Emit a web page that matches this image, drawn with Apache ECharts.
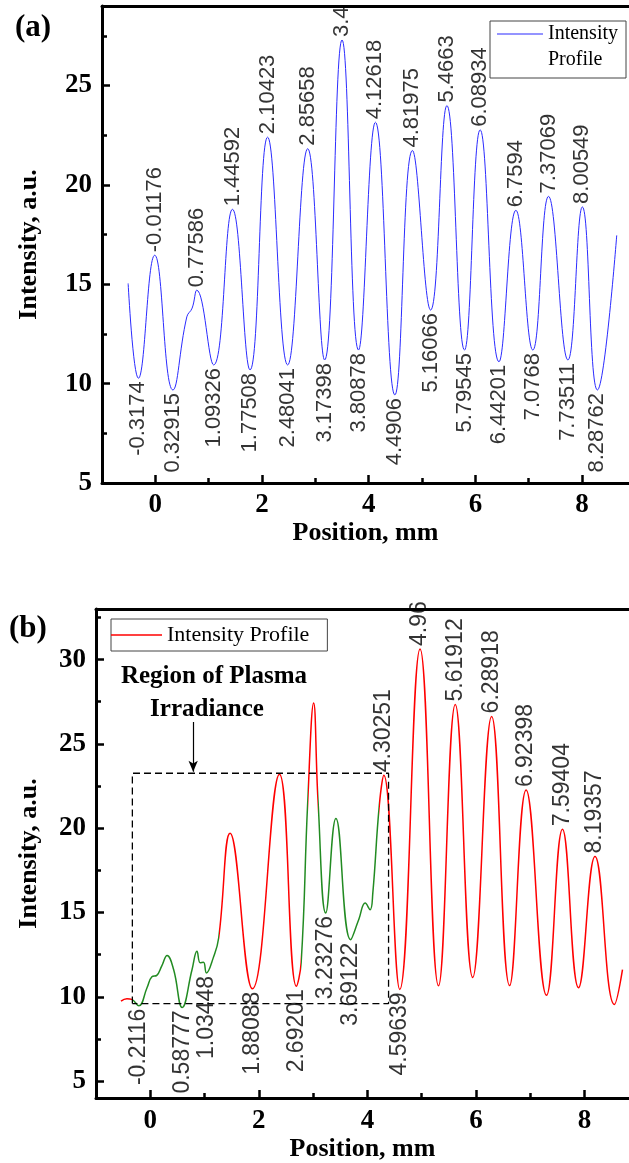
<!DOCTYPE html>
<html><head><meta charset="utf-8">
<script src="https://cdn.jsdelivr.net/npm/echarts@6/dist/echarts.min.js"></script>
<style>html,body{margin:0;padding:0;background:#fff}#c{width:629px;height:1163px}</style>
</head><body><div id="c"></div>
<script>
// ---------- data: panel (a) ----------
const topX = [-0.51, -0.3174, -0.01176, 0.32915, 0.59, 0.69, 0.77586, 1.09326, 1.44592, 1.77508, 2.10423, 2.48041, 2.85658, 3.17398, 3.50, 3.80878, 4.12618, 4.4906, 4.81975, 5.16066, 5.4663, 5.79545, 6.08934, 6.44201, 6.7594, 7.0768, 7.37069, 7.73511, 8.00549, 8.28762, 8.65];
const topY = [15.04, 10.27, 16.46, 9.68, 13.36, 13.80, 14.70, 10.94, 18.77, 10.69, 22.40, 10.94, 21.82, 11.19, 27.29, 11.69, 23.15, 9.43, 21.73, 13.70, 23.99, 11.69, 22.77, 11.10, 18.72, 11.69, 19.42, 11.19, 18.89, 9.68, 17.46];
const topPeakLabels = ['-0.01176', '0.77586', '1.44592', '2.10423', '2.85658', '3.4', '4.12618', '4.81975', '5.4663', '6.08934', '6.7594', '7.37069', '8.00549'];
const topValleyLabels = ['-0.3174', '0.32915', '1.09326', '1.77508', '2.48041', '3.17398', '3.80878', '4.4906', '5.16066', '5.79545', '6.44201', '7.0768', '7.73511', '8.28762'];

// ---------- data: panel (b) ----------
const botX = [-0.54, -0.43, -0.34, -0.2116, -0.06, 0.03, 0.12, 0.21, 0.31, 0.43, 0.58777, 0.77, 0.86, 0.92, 0.98, 1.03448, 1.16, 1.26, 1.47, 1.88088, 2.38, 2.69201, 2.78, 2.90, 3.01, 3.09, 3.23276, 3.42, 3.69122, 3.84, 3.96, 4.05, 4.10, 4.22, 4.30251, 4.59639, 4.97, 5.31, 5.61912, 5.94, 6.28918, 6.62, 6.92398, 7.30, 7.59404, 7.89, 8.19357, 8.55, 8.70];
const botY = [9.75, 9.89, 9.85, 9.47, 10.54, 11.19, 11.27, 11.82, 12.45, 11.62, 9.37, 11.62, 12.70, 12.02, 12.05, 11.42, 12.31, 13.49, 19.70, 10.48, 23.20, 10.63, 12.04, 21.49, 27.42, 21.67, 14.97, 20.58, 13.39, 14.57, 15.56, 15.17, 16.15, 21.37, 23.14, 10.44, 30.63, 10.65, 27.34, 11.15, 26.63, 10.67, 22.26, 10.09, 19.94, 10.54, 18.32, 9.55, 11.62];
const botPeakLabels = ['4.30251', '4.96', '5.61912', '6.28918', '6.92398', '7.59404', '8.19357'];
const botValleyLabels = ['-0.2116', '0.58777', '1.03448', '1.88088', '2.69201', '3.23276', '3.69122', '4.59639'];
// x-ranges drawn in green (plasma region), the rest red
const greenRanges = [[-0.34, 1.27], [2.78, 2.90], [3.09, 4.22]];
// dashed box of the plasma region [xLeft, xRight, yBottom, yTop]
const regionBox = [-0.33, 4.39, 9.6, 23.26];
const arrowLine = [0.79, 26.3, 23.35];

// ---------- ticks ----------
const xMajor = [0, 2, 4, 6, 8];
const xMinor = [1, 3, 5, 7];
const topYMajor = [5, 10, 15, 20, 25];
const topYMinor = [7.5, 12.5, 17.5, 22.5, 27.5];
const botYMajor = [5, 10, 15, 20, 25, 30];
const botYMinor = [7.5, 12.5, 17.5, 22.5, 27.5, 32.5];

const SERIF = 'Liberation Serif', SANS = 'Liberation Sans';
const RED = '#ff0000', GREEN = '#228b22', BLUE = '#2b2bff';

function nearestIdx(xs, v) {
  let b = 0;
  for (let i = 1; i < xs.length; i++) if (Math.abs(xs[i] - v) < Math.abs(xs[b] - v)) b = i;
  return b;
}
function labelData(xs, ys, labels, up, fs) {
  return labels.map(t => {
    const i = nearestIdx(xs, parseFloat(t));
    return {
      value: [xs[i], ys[i]],
      label: {
        show: true, formatter: t, rotate: 90,
        position: up ? 'top' : 'bottom', distance: 3,
        align: up ? 'left' : 'right', verticalAlign: 'middle',
        fontFamily: SANS, fontSize: fs, color: '#000'
      }
    };
  });
}

function xMain(grid, max, nameGap, margin) {
  return {
    type: 'value', gridIndex: grid, position: 'bottom', min: -1, max: max,
    name: 'Position, mm', nameLocation: 'middle', nameGap: nameGap,
    nameTextStyle: {fontFamily: SERIF, fontWeight: 'bold', fontSize: 26, color: '#000'},
    axisLine: {show: true, onZero: false, lineStyle: {color: '#000', width: 3}},
    axisTick: {show: true, inside: true, length: 8, customValues: xMajor, lineStyle: {color: '#000', width: 2.5}},
    axisLabel: {show: true, customValues: xMajor, margin: margin, fontFamily: SERIF, fontWeight: 'bold', fontSize: 27, color: '#000'},
    splitLine: {show: false}
  };
}
function xMinorAxis(grid, max) {
  return {
    type: 'value', gridIndex: grid, position: 'bottom', min: -1, max: max,
    axisLine: {show: false, onZero: false},
    axisTick: {show: true, inside: true, length: 5, customValues: xMinor, lineStyle: {color: '#000', width: 2.5}},
    axisLabel: {show: false}, splitLine: {show: false}
  };
}
function xTop(grid, max) {
  return {
    type: 'value', gridIndex: grid, position: 'top', min: -1, max: max,
    axisLine: {show: true, onZero: false, lineStyle: {color: '#000', width: 3}},
    axisTick: {show: false}, axisLabel: {show: false}, splitLine: {show: false}
  };
}
function yMain(grid, min, max, major, nameGap) {
  return {
    type: 'value', gridIndex: grid, position: 'left', min: min, max: max,
    name: 'Intensity, a.u.', nameLocation: 'middle', nameGap: nameGap, nameRotate: 90,
    nameTextStyle: {fontFamily: SERIF, fontWeight: 'bold', fontSize: 26, color: '#000'},
    axisLine: {show: true, onZero: false, lineStyle: {color: '#000', width: 3}},
    axisTick: {show: true, inside: true, length: 8, customValues: major, lineStyle: {color: '#000', width: 2.5}},
    axisLabel: {show: true, customValues: major, margin: 10, fontFamily: SERIF, fontWeight: 'bold', fontSize: 27, color: '#000'},
    splitLine: {show: false}
  };
}
function yMinorAxis(grid, min, max, minor) {
  return {
    type: 'value', gridIndex: grid, position: 'left', min: min, max: max,
    axisLine: {show: false, onZero: false},
    axisTick: {show: true, inside: true, length: 5, customValues: minor, lineStyle: {color: '#000', width: 2.5}},
    axisLabel: {show: false}, splitLine: {show: false}
  };
}

const pieces = [];
let prev = -100;
greenRanges.forEach(r => {
  pieces.push({gte: prev, lt: r[0], color: RED});
  pieces.push({gte: r[0], lt: r[1], color: GREEN});
  prev = r[1];
});
pieces.push({gte: prev, lte: 100, color: RED});

const boxPts = [[regionBox[0], regionBox[2]], [regionBox[0], regionBox[3]], [regionBox[1], regionBox[3]], [regionBox[1], regionBox[2]], [regionBox[0], regionBox[2]]];

const chart = echarts.init(document.getElementById('c'), null, {renderer: 'canvas'});
chart.setOption({
  animation: false,
  backgroundColor: '#fff',
  title: [
    {text: '(a)', left: 15, top: 12, padding: 0, textStyle: {fontFamily: SERIF, fontWeight: 'bold', fontSize: 31, color: '#000'}},
    {text: '(b)', left: 9, top: 613, padding: 0, textStyle: {fontFamily: SERIF, fontWeight: 'bold', fontSize: 31, color: '#000'}}
  ],
  grid: [
    {left: 102, top: 6, right: 0, bottom: 680, containLabel: false},
    {left: 96, top: 609, right: 0, bottom: 65, containLabel: false}
  ],
  xAxis: [xMain(0, 8.88, 31, 9), xMinorAxis(0, 8.88), xTop(0, 8.88), xMain(1, 8.82, 34, 10), xMinorAxis(1, 8.82), xTop(1, 8.82)],
  yAxis: [yMain(0, 5, 29, topYMajor, 60), yMinorAxis(0, 5, 29, topYMinor), yMain(1, 4, 33, botYMajor, 54), yMinorAxis(1, 4, 33, botYMinor)],
  legend: [
    {
      data: ['Intensity Profile (a)'], left: 497, top: -5, padding: 0, selectedMode: false,
      itemWidth: 46, itemHeight: 14, icon: 'path://M0,0H46V1H0Z',
      formatter: () => '\nIntensity\nProfile',
      textStyle: {fontFamily: SERIF, fontSize: 20, lineHeight: 26, color: '#000'}
    },
    {
      data: ['Intensity Profile (b)'], left: 111, top: 619, padding: [3, 18, 3, 0], selectedMode: false,
      itemWidth: 51, itemHeight: 14, borderColor: '#444', borderWidth: 1, icon: 'path://M0,0H51V1.5H0Z',
      itemStyle: {color: RED},
      formatter: () => 'Intensity Profile',
      textStyle: {fontFamily: SERIF, fontSize: 22, lineHeight: 26, color: '#000'}
    }
  ],
  visualMap: {
    type: 'piecewise', show: false, seriesIndex: 2, dimension: 0, pieces: pieces
  },
  graphic: [
    {type: 'rect', shape: {x: 490, y: 21, width: 136, height: 57}, style: {fill: 'none', stroke: '#444', lineWidth: 1}},
    {type: 'text', x: 214, y: 677, style: {text: 'Region of Plasma', align: 'center', verticalAlign: 'middle', font: 'bold 25px "Liberation Serif"', fill: '#000'}},
    {type: 'text', x: 207, y: 710, style: {text: 'Irradiance', align: 'center', verticalAlign: 'middle', font: 'bold 25px "Liberation Serif"', fill: '#000'}}
  ],
  series: [
    {
      name: 'Intensity Profile (a)', type: 'line', xAxisIndex: 0, yAxisIndex: 0,
      data: topX.map((x, i) => [x, topY[i]]), smooth: 0.45, symbol: 'none',
      color: BLUE, lineStyle: {width: 1}
    },
    {
      type: 'scatter', xAxisIndex: 0, yAxisIndex: 0, symbolSize: 0, silent: true,
      data: labelData(topX, topY, topPeakLabels, true, 22).concat(labelData(topX, topY, topValleyLabels, false, 22))
    },
    {
      name: 'Intensity Profile (b)', type: 'line', xAxisIndex: 3, yAxisIndex: 2,
      data: botX.map((x, i) => [x, botY[i]]), smooth: 0.45, symbol: 'none',
      color: RED, lineStyle: {width: 1.5}
    },
    {
      type: 'scatter', xAxisIndex: 3, yAxisIndex: 2, symbolSize: 0, silent: true,
      data: labelData(botX, botY, botPeakLabels, true, 23).concat(labelData(botX, botY, botValleyLabels, false, 23))
    },
    {
      type: 'line', xAxisIndex: 3, yAxisIndex: 2, data: boxPts, symbol: 'none', silent: true,
      lineStyle: {color: '#000', width: 1.3, type: [7, 4]},
      markLine: {
        silent: true, symbol: ['none', 'arrow'], symbolSize: [7, 11],
        label: {show: false},
        lineStyle: {color: '#000', width: 1.2, type: 'solid'},
        data: [[{coord: [arrowLine[0], arrowLine[1]]}, {coord: [arrowLine[0], arrowLine[2]]}]]
      }
    }
  ]
});
</script></body></html>
